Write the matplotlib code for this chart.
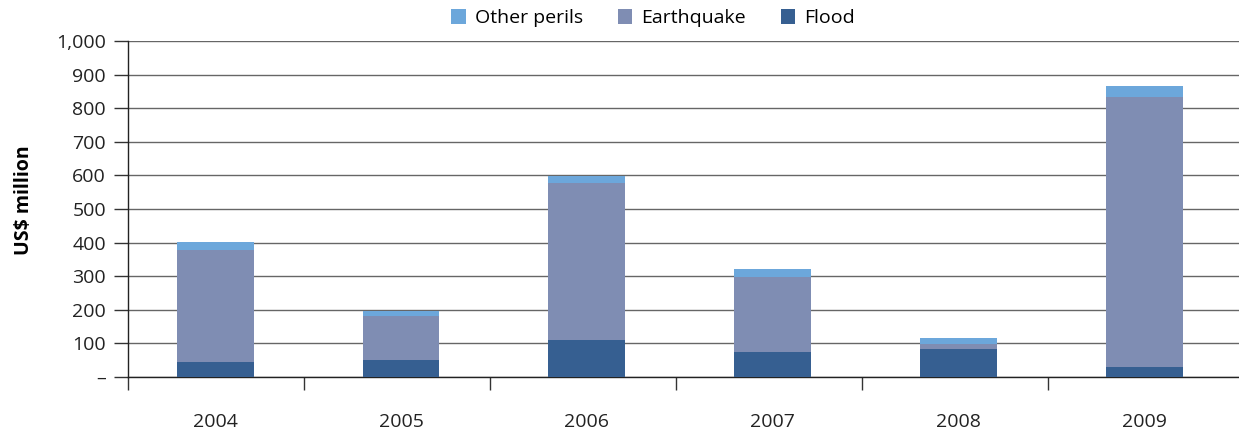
import matplotlib
matplotlib.use("Agg")
import matplotlib.pyplot as plt
import numpy as np

years = ["2004", "2005", "2006", "2007", "2008", "2009"]
flood = [45, 51, 110, 74, 83, 30]
earthquake = [333, 130, 466, 224, 15, 803]
other = [23, 16, 22, 23, 18, 33]
yticks = [0, 100, 200, 300, 400, 500, 600, 700, 800, 900, 1000]
ytick_labels = ["–", "100", "200", "300", "400", "500", "600", "700", "800", "900", "1,000"]

c_flood = "#365F91"
c_eq = "#7F8DB3"
c_other = "#6CA7DB"

plt.rcParams['font.family'] = ['Open Sans', 'DejaVu Sans']
FS = 14

fig = plt.figure(figsize=(12.39, 4.33), dpi=100)
ax = fig.add_axes([0.1035, 0.1293, 0.8965, 0.776])

x = np.arange(len(years))
w = 0.413
fl = np.array(flood)
eq = np.array(earthquake)
ot = np.array(other)
ax.bar(x, fl, w, color=c_flood, label="Flood", zorder=3)
ax.bar(x, eq, w, bottom=fl, color=c_eq, label="Earthquake", zorder=3)
ax.bar(x, ot, w, bottom=fl + eq, color=c_other, label="Other perils", zorder=3)

ax.set_xlim(-0.468, 5.51)
ax.set_ylim(0, 1000)
ax.set_yticks(yticks)
ax.set_yticklabels(ytick_labels, fontsize=FS, color="#222222")
ax.yaxis.grid(True, color="#666666", linewidth=1.0, zorder=0)
ax.set_axisbelow(True)

ax.set_xticks([-0.468] + [k + 0.48 for k in range(len(years) - 1)])
ax.set_xticklabels([])
ax.set_xticks(x, minor=True)
ax.set_xticklabels(years, minor=True, fontsize=FS, color="#222222")
ax.tick_params(axis="x", which="major", direction="out", length=9, width=1, color="#333333")
ax.tick_params(axis="x", which="minor", length=0, pad=26)
ax.tick_params(axis="y", direction="out", length=10, width=1, color="#333333", pad=6)

for s in ["top", "right"]:
    ax.spines[s].set_visible(False)
for s in ["left", "bottom"]:
    ax.spines[s].set_color("#222222")
    ax.spines[s].set_linewidth(1.0)

ax.set_ylabel("US$ million", fontsize=FS, fontweight="bold", va="center")
ax.yaxis.set_label_coords(-0.0935, 0.527)

handles, labels = ax.get_legend_handles_labels()
order = [2, 1, 0]
fig.legend([handles[i] for i in order], [labels[i] for i in order],
           loc="center", bbox_to_anchor=(0.527, 0.958), ncol=3, frameon=False,
           fontsize=FS, handlelength=0.75, handleheight=0.75, columnspacing=1.8,
           handletextpad=0.45)

fig.savefig("out.png", dpi=100)
